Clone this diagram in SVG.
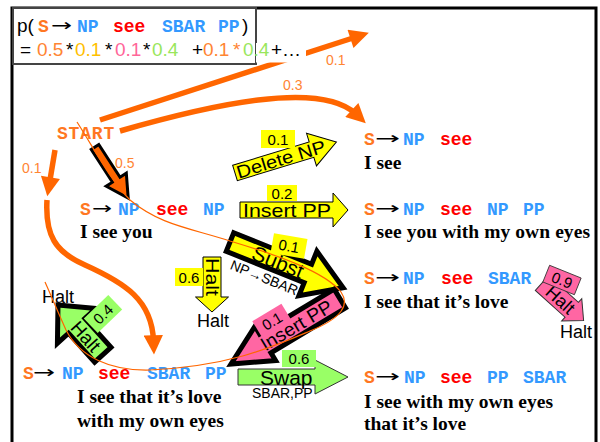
<svg xmlns="http://www.w3.org/2000/svg" width="600" height="442" viewBox="0 0 600 442">
  <defs>
    <style>
      .code { font-family: "Liberation Mono", "DejaVu Sans Mono", monospace; font-weight: bold; font-size: 18px; }
      .o { fill: #ff7722; }
      .b { fill: #3399ff; }
      .r { fill: #ff0000; }
      .to { font-family: "DejaVu Sans", sans-serif; font-size: 17px; fill: #000; }
      .sent { font-family: "Liberation Serif", "Times New Roman", serif; font-weight: bold; font-size: 19.5px; fill: #000; }
      .sans { font-family: "Liberation Sans", Arial, sans-serif; fill: #000; }
      .prob { font-family: "Liberation Sans", Arial, sans-serif; font-size: 14px; fill: #ff8533; }
      .flow { fill: none; stroke: #ff6600; stroke-width: 5.5; marker-end: url(#head); }
      .trace { fill: none; stroke: #ff6600; stroke-width: 1.2; }
      .op-y { fill: #ffff00; stroke: #000; stroke-width: 1; }
      .op-g { fill: #99ff66; stroke: #333; stroke-width: 1; }
      .op-p { fill: #ff66a3; stroke: #333; stroke-width: 1; }
      .bold-edge { stroke: #000; stroke-width: 5; stroke-linejoin: miter; }
      .optext { font-family: "Liberation Sans", Arial, sans-serif; fill: #000; text-anchor: middle; }
    </style>
    <marker id="head" viewBox="0 0 10 10" refX="3" refY="5" markerWidth="4" markerHeight="3.5" orient="auto" markerUnits="strokeWidth">
      <path d="M0,0 L10,5 L0,10 z" fill="#ff6600"/>
    </marker>
  </defs>

  <rect width="600" height="442" fill="#fff"/>

  <!-- slide frame -->
  <path d="M12,442 L12,8 L596,8 L596,442" fill="none" stroke="#000" stroke-width="3"/>

  <g id="connectors">
    <path class="flow" d="M100,120 L356,37"/>
    <path class="flow" d="M120,131 C210,105 320,80 356,114"/>
    <path class="flow" d="M55,150 L49.5,183"/>
    <path class="flow" d="M47,200 C45,235 55,252 85,265 C125,283 152,300 153.5,341"/>
    <text class="prob" x="326" y="65">0.1</text>
    <text class="prob" x="283" y="90">0.3</text>
    <text class="prob" x="22" y="173">0.1</text>
    <text class="prob" x="115" y="168">0.5</text>
    <!-- START -> first expansion -->
    <g transform="translate(95,147) rotate(57)">
      <polygon points="0,-4.5 39,-4.5 39,-12 61,0 39,12 39,4.5 0,4.5" fill="#ff6600" stroke="#000" stroke-width="3"/>
    </g>
  </g>

  <!-- formula box -->
  <g id="formula">
    <rect x="13" y="8" width="243" height="56" fill="#fff" stroke="#444" stroke-width="2"/>
    <rect x="256" y="43" width="50" height="19.5" fill="#fff"/>
    <text class="sans" x="17" y="32" font-size="19">p(</text>
    <text class="code o" x="38" y="32">S</text>
    <text class="to" x="51" y="31" textLength="21" lengthAdjust="spacingAndGlyphs">→</text>
    <text class="code b" x="77" y="32">NP</text>
    <text class="code r" x="113" y="32">see</text>
    <text class="code b" x="162" y="32">SBAR</text>
    <text class="code b" x="218" y="32">PP</text>
    <text class="sans" x="242" y="32" font-size="19">)</text>
    <g class="sans" font-size="19">
      <text x="20" y="56">=</text>
      <text x="37" y="56" fill="#ff8533">0.5</text>
      <text x="66" y="56">*</text>
      <text x="75" y="56" fill="#ffc000">0.1</text>
      <text x="105" y="56">*</text>
      <text x="115" y="56" fill="#ff6699">0.1</text>
      <text x="143" y="56">*</text>
      <text x="152" y="56" fill="#99e65c">0.4</text>
      <text x="192" y="56">+</text>
      <text x="203" y="56" fill="#ff8533">0.1</text>
      <text x="233" y="56" fill="#ff8533">*</text>
      <text x="243" y="56" fill="#99e65c">0.4</text>
      <text x="271" y="56">+…</text>
    </g>
  </g>

  <g id="start">
    <text class="code o" x="57" y="139" font-size="19" letter-spacing="0.8">START</text>
  </g>

  <!-- derived rules -->
  <g id="rule-np-see-np">
    <text class="code o" x="80" y="215">S</text>
    <text class="to" x="92" y="214" textLength="20" lengthAdjust="spacingAndGlyphs">→</text>
    <text class="code b" x="118" y="215">NP</text>
    <text class="code r" x="156" y="215">see</text>
    <text class="code b" x="203" y="215">NP</text>
    <text class="sent" x="80" y="238">I see you</text>
  </g>

  <g id="rule-np-see">
    <text class="code o" x="364" y="145">S</text>
    <text class="to" x="375" y="144" textLength="25" lengthAdjust="spacingAndGlyphs">→</text>
    <text class="code b" x="403" y="145">NP</text>
    <text class="code r" x="440" y="145">see</text>
    <text class="sent" x="364" y="169">I see</text>
  </g>

  <g id="rule-np-see-np-pp">
    <text class="code o" x="364" y="215">S</text>
    <text class="to" x="375" y="214" textLength="25" lengthAdjust="spacingAndGlyphs">→</text>
    <text class="code b" x="403" y="215">NP</text>
    <text class="code r" x="440" y="215">see</text>
    <text class="code b" x="487" y="215">NP</text>
    <text class="code b" x="523" y="215">PP</text>
    <text class="sent" x="364" y="238" textLength="226">I see you with my own eyes</text>
  </g>

  <g id="rule-np-see-sbar">
    <text class="code o" x="364" y="284">S</text>
    <text class="to" x="375" y="283" textLength="25" lengthAdjust="spacingAndGlyphs">→</text>
    <text class="code b" x="403" y="284">NP</text>
    <text class="code r" x="441" y="284">see</text>
    <text class="code b" x="488" y="284">SBAR</text>
    <text class="sent" x="364" y="308">I see that it’s love</text>
  </g>

  <g id="rule-np-see-sbar-pp">
    <text class="code o" x="23" y="379">S</text>
    <text class="to" x="33" y="378" textLength="22" lengthAdjust="spacingAndGlyphs">→</text>
    <text class="code b" x="62" y="379">NP</text>
    <text class="code r" x="98" y="379">see</text>
    <text class="code b" x="147" y="379">SBAR</text>
    <text class="code b" x="205" y="379">PP</text>
    <text class="sent" x="77" y="403">I see that it’s love</text>
    <text class="sent" x="77" y="427">with my own eyes</text>
  </g>

  <g id="rule-np-see-pp-sbar">
    <text class="code o" x="364" y="383">S</text>
    <text class="to" x="375" y="382" textLength="25" lengthAdjust="spacingAndGlyphs">→</text>
    <text class="code b" x="404" y="383">NP</text>
    <text class="code r" x="440" y="383">see</text>
    <text class="code b" x="487" y="383">PP</text>
    <text class="code b" x="523" y="383">SBAR</text>
    <text class="sent" x="364" y="408">I see with my own eyes</text>
    <text class="sent" x="364" y="430">that it’s love</text>
  </g>

  <!-- edit operations -->
  <g id="op-delete-np">
    <g transform="translate(235,173) rotate(-17)">
      <polygon class="op-y" points="0,-8 80,-8 80,-17 106,0 80,17 80,8 0,8"/>
      <text class="optext" x="48" y="6.5" font-size="18" textLength="92" lengthAdjust="spacingAndGlyphs">Delete NP</text>
    </g>
    <rect x="261" y="130" width="34" height="18" fill="#ffff00"/>
    <text class="optext" x="278" y="145" font-size="15">0.1</text>
  </g>

  <g id="op-insert-pp">
    <polygon class="op-y" points="240,202 333,202 333,193 348,210 333,227 333,218 240,218"/>
    <text class="sans" x="243" y="216.5" font-size="19" textLength="88" lengthAdjust="spacingAndGlyphs">Insert PP</text>
    <rect x="267" y="185" width="30" height="16" fill="#ffff00"/>
    <text class="optext" x="282" y="198.5" font-size="15">0.2</text>
  </g>

  <g id="op-subst">
    <g transform="translate(230,242) rotate(22)">
      <polygon class="bold-edge" fill="#ffff00" points="0,-10 84,-10 84,-24 122,0 84,24 84,10 0,10"/>
      <text class="optext" x="52" y="8" font-size="21">Subst</text>
      <text class="optext" x="45" y="25" font-size="14">NP→SBAR</text>
    </g>
    <g transform="translate(289,246) rotate(10)">
      <rect x="-17" y="-10" width="34" height="20" fill="#ffff00"/>
      <text class="optext" x="0" y="5.5" font-size="15">0.1</text>
    </g>
  </g>

  <g id="op-halt-a">
    <polygon class="op-y" points="203,257 221,257 221,297 228.5,297 212,312 195.5,297 203,297"/>
    <text class="sans" transform="translate(212,277) rotate(90)" x="0" y="6.5" font-size="19" text-anchor="middle" textLength="38" lengthAdjust="spacingAndGlyphs">Halt</text>
    <rect x="175" y="268" width="28" height="18" fill="#ffff00"/>
    <text class="optext" x="189" y="283" font-size="15">0.6</text>
    <text class="sans" x="197" y="327" font-size="18" fill="#222">Halt</text>
  </g>

  <g id="op-insert-pp-2">
    <g transform="translate(231,364) rotate(-31)">
      <polygon class="bold-edge" fill="#ff66a3" points="0,0 40,-20 40,-11 127,-11 127,11 40,11 40,20"/>
      <text class="optext" x="76" y="7" font-size="19" textLength="80" lengthAdjust="spacingAndGlyphs">Insert PP</text>
    </g>
    <g transform="translate(272,321) rotate(-31)">
      <rect x="-17" y="-10" width="34" height="20" fill="#ff66a3"/>
      <text class="optext" x="0" y="5.5" font-size="15">0.1</text>
    </g>
  </g>

  <g id="op-halt-b">
    <g transform="translate(58,305) rotate(48)">
      <polygon class="bold-edge" fill="#99ff66" points="0,0 28,-26 28,-11 67,-11 67,11 28,11 28,26"/>
      <text class="optext" x="42" y="7" font-size="19">Halt</text>
    </g>
    <g transform="translate(103,314) rotate(-44)">
      <rect x="-17" y="-10" width="34" height="20" fill="#99ff66"/>
      <text class="optext" x="0" y="5.5" font-size="15">0.4</text>
    </g>
    <text class="sans" x="42" y="303" font-size="18" fill="#222">Halt</text>
  </g>

  <g id="op-swap">
    <polygon class="op-g" points="238,369 315,369 315,360 348,377 315,394 315,385 238,385"/>
    <text class="sans" x="260" y="385" font-size="21">Swap</text>
    <text class="sans" x="252" y="398" font-size="14" fill="#222">SBAR,PP</text>
    <rect x="282" y="350" width="34" height="17" fill="#99ff66"/>
    <text class="optext" x="299" y="364" font-size="15">0.6</text>
  </g>

  <g id="op-halt-c">
    <g transform="translate(542,283) rotate(42)">
      <polygon class="op-p" points="0,-10 40,-10 40,-15 56,0 40,15 40,10 0,10"/>
      <text class="optext" x="25" y="6.5" font-size="18">Halt</text>
    </g>
    <g transform="translate(562,280) rotate(22)">
      <rect x="-17" y="-9" width="34" height="18" fill="#ff66a3" stroke="#333" stroke-width="0.8"/>
      <text class="optext" x="0" y="5.5" font-size="15">0.9</text>
    </g>
    <text class="sans" x="560" y="338" font-size="18" fill="#222">Halt</text>
  </g>

  <!-- derivation trace -->
  <path class="trace" d="M77,122 C95,150 110,180 130,200 C160,225 190,228 230,241 C280,256 325,272 341,292 C350,305 342,318 310,331 C270,348 230,366 150,370 C110,371 80,357 66,330 C57,310 50,293 45,282"/>
</svg>
